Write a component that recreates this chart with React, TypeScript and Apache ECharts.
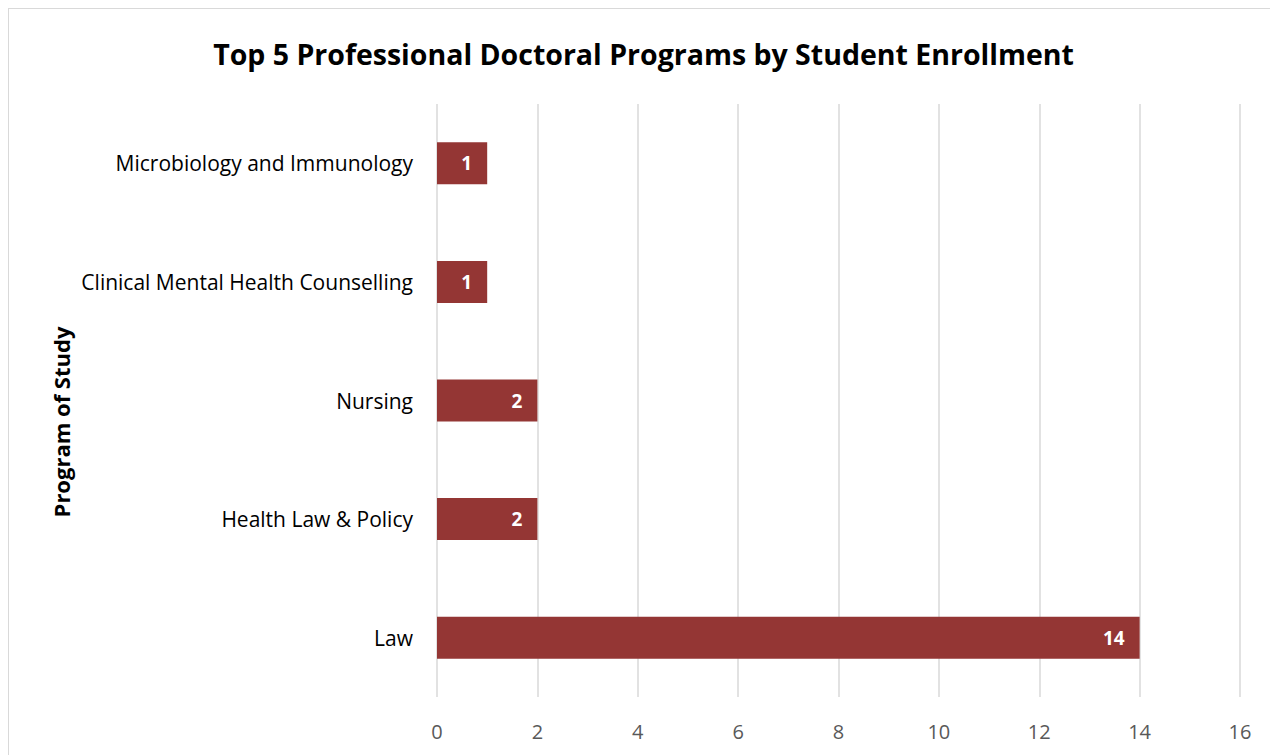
import React, { useEffect, useRef } from "react";
import * as echarts from "echarts";

const categories = [
  "Law",
  "Health Law & Policy",
  "Nursing",
  "Clinical Mental Health Counselling",
  "Microbiology and Immunology",
];
const enrollment = [14, 2, 2, 1, 1];
const titleText = "Top 5 Professional Doctoral Programs by Student Enrollment";
const yAxisTitle = "Program of Study";

export default function App() {
  const ref = useRef<HTMLDivElement>(null);
  useEffect(() => {
    if (!ref.current) return;
    const chart = echarts.init(ref.current, null, { renderer: "svg" });
    const font = "'Open Sans', 'Noto Sans', sans-serif";
    chart.setOption({
      animation: false,
      backgroundColor: "#ffffff",
      title: {
        text: titleText,
        left: "center",
        top: 25,
        textStyle: { fontFamily: font, fontSize: 28.5, fontWeight: "bold", color: "#000000" },
      },
      grid: { left: 428, right: 38, top: 95, bottom: 58, containLabel: false },
      xAxis: {
        type: "value",
        min: 0,
        max: 16,
        interval: 2,
        axisLine: { show: false },
        axisTick: { show: false },
        axisLabel: { fontFamily: font, fontSize: 20, color: "#595959", margin: 24 },
        splitLine: { show: true, lineStyle: { color: "#d9d9d9", width: 1.5 } },
      },
      yAxis: {
        type: "category",
        data: categories,
        axisLine: { show: false },
        axisTick: { show: false },
        axisLabel: { fontFamily: font, fontSize: 21, color: "#000000", margin: 24 },
      },
      graphic: [
        {
          type: "text",
          x: 52,
          y: 413,
          rotation: Math.PI / 2,
          style: {
            text: yAxisTitle,
            fontFamily: font,
            fontSize: 22,
            fontWeight: "bold",
            fill: "#000000",
            align: "center",
            verticalAlign: "middle",
          },
        },
      ],
      series: [
        {
          type: "bar",
          data: enrollment,
          barWidth: 42,
          itemStyle: { color: "#943634" },
          label: {
            show: true,
            position: "insideRight",
            distance: 15,
            color: "#ffffff",
            fontFamily: font,
            fontSize: 19,
            fontWeight: "bold",
          },
        },
      ],
    });
    return () => chart.dispose();
  }, []);
  return (
    <div
      ref={ref}
      style={{
        width: 1270,
        height: 747,
        borderLeft: "1px solid #d9d9d9",
        borderTop: "1px solid #d9d9d9",
        boxSizing: "border-box",
      }}
    />
  );
}
